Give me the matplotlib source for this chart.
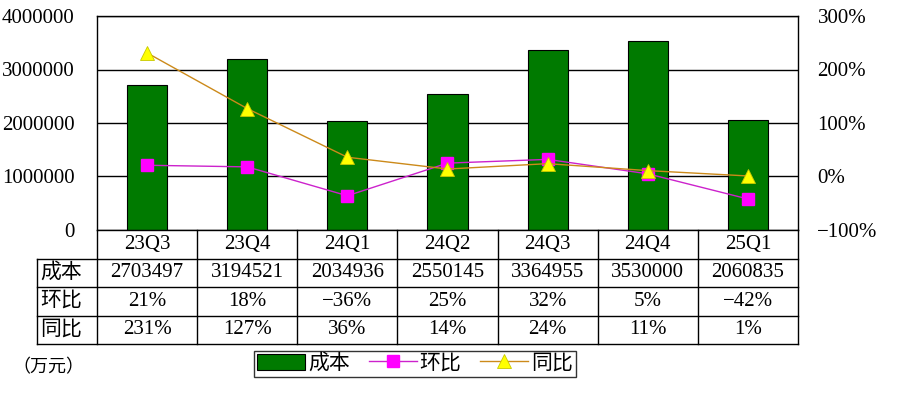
import matplotlib
matplotlib.use("Agg")
import matplotlib.pyplot as plt
from matplotlib.patches import Patch
from matplotlib.lines import Line2D

plt.rcParams['font.family'] = ['Liberation Serif', 'Noto Sans CJK SC', 'DejaVu Sans']

quarters = ['23Q3', '23Q4', '24Q1', '24Q2', '24Q3', '24Q4', '25Q1']
cost = [2703497, 3194521, 2034936, 2550145, 3364955, 3530000, 2060835]
qoq = [21, 18, -36, 25, 32, 5, -42]   # 环比 %
yoy = [231, 127, 36, 14, 24, 11, 1]   # 同比 %
row_names = ['成本', '环比', '同比']

W, H = 900, 398
fig = plt.figure(figsize=(9, 3.98), dpi=100)

def px(l, t, r, b):
    return [l / W, 1 - b / H, (r - l) / W, (b - t) / H]

def pct(v):
    return ('%d%%' % v).replace('-', '\u2212')

fs = 15
x = list(range(len(quarters)))

ax = fig.add_axes(px(97, 16, 798, 230))
ax.bar(x, cost, width=0.4, color='#007a00', edgecolor='black', linewidth=0.8, zorder=2)
ax.set_xlim(-0.5, len(quarters) - 0.5)
ax.set_ylim(0, 4000000)
ax.set_yticks([0, 1000000, 2000000, 3000000, 4000000])
ax.set_yticklabels(['0', '1000000', '2000000', '3000000', '4000000'], fontsize=fs)
ax.set_xticks([])
ax.tick_params(axis='y', length=0, pad=16)
ax.grid(axis='y', color='black', linewidth=1, zorder=1)
for s in ax.spines.values():
    s.set_color('black')
    s.set_linewidth(1)

ax2 = ax.twinx()
ax2.set_ylim(-100, 300)
ax2.set_yticks([-100, 0, 100, 200, 300])
ax2.set_yticklabels([pct(v) for v in [-100, 0, 100, 200, 300]], fontsize=fs)
ax2.tick_params(axis='y', length=0, pad=14)
ax2.plot(x, qoq, color='#cc22cc', linewidth=1, marker='s', markersize=9,
         markerfacecolor='#ff00ff', markeredgecolor='#ff00ff', zorder=3)
ax2.plot(x, yoy, color='#cc8a1a', linewidth=1, marker='^', markersize=10,
         markerfacecolor='#ffff00', markeredgecolor='#c8c800', markeredgewidth=0.6, zorder=4)
for s in ax2.spines.values():
    s.set_visible(False)

# data table under the chart
tb = fig.add_axes(px(37, 230, 798, 344))
left = -0.5 - 60 / 100.14
tb.set_xlim(left, len(quarters) - 0.5)
tb.set_ylim(0, 4)
tb.axis('off')
for yy in [0, 1, 2, 3]:
    tb.plot([left, len(quarters) - 0.5], [yy, yy], color='black', lw=1, clip_on=False)
for k in range(len(quarters) + 1):
    tb.plot([k - 0.5, k - 0.5], [0, 4], color='black', lw=1, clip_on=False)
tb.plot([left, left], [0, 3], color='black', lw=1, clip_on=False)

for i, q in enumerate(quarters):
    tb.text(i, 3.5, q, ha='center', va='center', fontsize=fs)
    tb.text(i, 2.5, str(cost[i]), ha='center', va='center', fontsize=fs)
    tb.text(i, 1.5, pct(qoq[i]), ha='center', va='center', fontsize=fs)
    tb.text(i, 0.5, pct(yoy[i]), ha='center', va='center', fontsize=fs)
for j, name in enumerate(row_names):
    tb.text(left + 0.03, 2.5 - j, name, ha='left', va='center', fontsize=fs)

fig.text(12 / W, 1 - 368 / H, '（万元）', ha='left', va='center', fontsize=13)

handles = [
    Patch(facecolor='#007a00', edgecolor='black', linewidth=0.8),
    Line2D([], [], color='#cc22cc', lw=1, marker='s', markersize=9,
           markerfacecolor='#ff00ff', markeredgecolor='#ff00ff'),
    Line2D([], [], color='#cc8a1a', lw=1, marker='^', markersize=10,
           markerfacecolor='#ffff00', markeredgecolor='#c8c800', markeredgewidth=0.6),
]
leg = fig.legend(handles, row_names, loc='center', bbox_to_anchor=(415 / W, 1 - 364 / H),
                 ncol=3, fontsize=fs, frameon=True, fancybox=False, edgecolor='black',
                 handlelength=2.3, handleheight=0.8, handletextpad=0.15, columnspacing=0.9,
                 borderpad=0.15, borderaxespad=0)
leg.get_frame().set_linewidth(1)

fig.savefig('out.png', dpi=100)
